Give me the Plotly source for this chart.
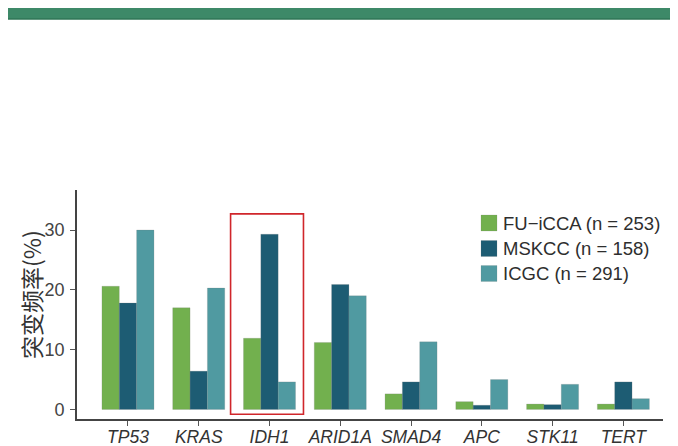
import plotly.graph_objects as go

genes = ["TP53", "KRAS", "IDH1", "ARID1A", "SMAD4", "APC", "STK11", "TERT"]
series_names = ["FU\u2212iCCA (n = 253)", "MSKCC (n = 158)", "ICGC (n = 291)"]
fu_icca = [20.6, 17.0, 11.9, 11.2, 2.6, 1.3, 0.9, 0.9]
mskcc = [17.8, 6.4, 29.3, 20.9, 4.6, 0.7, 0.8, 4.6]
icgc = [30.0, 20.3, 4.6, 19.0, 11.3, 5.0, 4.2, 1.8]
colors = ["#72b04e", "#1d5c73", "#509aa1"]
y_ticks = [0, 10, 20, 30]

# page body has an 8px margin: work in figure pixels = window pixels - 8
OFF = 8
W, H = 678 - OFF, 446 - OFF
L, T = 77 - OFF, 190 - OFF
R = W - (663 - OFF)
B = H - round(418.7 - OFF)
ph = H - T - B
pw = W - L - R


def px_x(x):
    return (x - OFF - L) / pw


def px_y(y):
    return (H - B - (y - OFF)) / ph


fig = go.Figure()
for name, vals, c in zip(series_names, [fu_icca, mskcc, icgc], colors):
    fig.add_trace(go.Bar(
        x=genes, y=vals, name=name, marker_color=c,
        marker_line=dict(color="rgba(120,120,120,0.35)", width=0.6),
        showlegend=False,
    ))

shapes = []
annotations = []
# top green banner
shapes.append(dict(type="rect", xref="paper", yref="paper",
                   x0=px_x(0) - 0.05, x1=px_x(678) + 0.05,
                   y0=px_y(19), y1=px_y(0) + 0.05,
                   fillcolor="#3d8968", line=dict(width=0), layer="above"))
shapes.append(dict(type="line", xref="paper", yref="paper",
                   x0=px_x(0) - 0.05, x1=px_x(678) + 0.05,
                   y0=px_y(19), y1=px_y(19),
                   line=dict(color="#2f7656", width=1.5)))
# red highlight box around IDH1
shapes.append(dict(type="rect", xref="x", yref="y",
                   x0=1.45, x1=2.48, y0=-0.8, y1=32.7,
                   line=dict(color="#d0262b", width=1.6),
                   fillcolor="rgba(0,0,0,0)"))

# manual legend
sq_left_px, sq_size = 481, 16
row_centers_px = [223, 248.5, 273.5]
for name, c, yc in zip(series_names, colors, row_centers_px):
    shapes.append(dict(type="rect", xref="paper", yref="paper",
                       x0=px_x(sq_left_px), x1=px_x(sq_left_px + sq_size),
                       y0=px_y(yc + sq_size / 2), y1=px_y(yc - sq_size / 2),
                       fillcolor=c, line=dict(color="rgba(120,120,120,0.3)", width=0.6)))
    annotations.append(dict(xref="paper", yref="paper",
                            x=px_x(501), y=px_y(yc),
                            text=name, showarrow=False,
                            xanchor="left", yanchor="middle",
                            font=dict(family="Liberation Sans, Arial", size=18.5, color="#2e2e2e")))

# y axis title
annotations.append(dict(xref="paper", yref="paper",
                        x=px_x(31), y=px_y(295),
                        text="突变频率(%)", showarrow=False, textangle=-90,
                        xanchor="center", yanchor="middle",
                        font=dict(family="Noto Sans CJK SC", size=23, color="#333333")))

fig.update_layout(
    width=W, height=H,
    margin=dict(l=L, r=R, t=T, b=B, pad=0),
    paper_bgcolor="white", plot_bgcolor="white",
    barmode="group", bargap=0.265, bargroupgap=0,
    shapes=shapes, annotations=annotations,
    xaxis=dict(
        range=[-0.72, 7.56], showgrid=False, zeroline=False, automargin=False,
        showline=True, linecolor="#444444", linewidth=1.8,
        ticks="outside", ticklen=5, tickcolor="#555555", tickwidth=1,
        ticklabelstandoff=-4,
        tickfont=dict(family="Liberation Sans, Arial", size=17.5, color="#333333"),
        tickvals=genes,
        ticktext=["<i>" + g + "</i>" for g in genes],
    ),
    yaxis=dict(
        range=[-1.6, 36.7], showgrid=False, zeroline=False, automargin=False,
        showline=True, linecolor="#444444", linewidth=1.8,
        ticks="outside", ticklen=5, tickcolor="#555555", tickwidth=1,
        ticklabelstandoff=2,
        tickvals=y_ticks,
        tickfont=dict(family="Liberation Sans, Arial", size=18, color="#444444"),
    ),
)

fig.write_html("out.html")
